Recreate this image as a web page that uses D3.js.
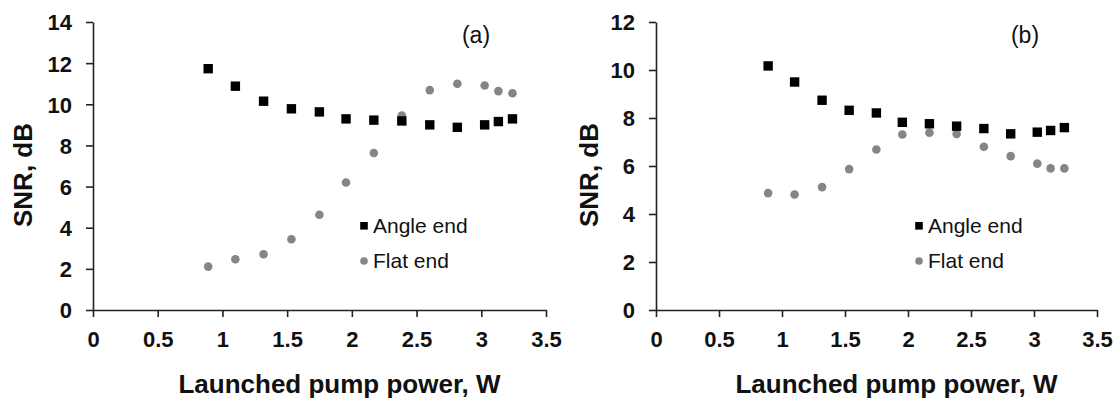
<!DOCTYPE html>
<html>
<head>
<meta charset="utf-8">
<script src="https://cdn.jsdelivr.net/npm/d3@7"></script>
<style>
  body { margin: 0; background: #fff; }
  svg { font-family: "Liberation Sans", Arial, sans-serif; }
</style>
</head>
<body>
<script>
// launched pump power, W (same for both panels)
var potencia = [0.89, 1.10, 1.318, 1.533, 1.749, 1.955, 2.17, 2.386, 2.602, 2.815, 3.026, 3.132, 3.241];

// panel (a)
var anguloA = [11.73, 10.88, 10.15, 9.78, 9.63, 9.29, 9.23, 9.19, 9.0, 8.88, 9.0, 9.16, 9.29];
var planoA  = [2.11, 2.47, 2.71, 3.44, 4.63, 6.20, 7.63, 9.45, 10.69, 11.0, 10.91, 10.64, 10.54];

// panel (b)
var anguloB = [10.17, 9.50, 8.74, 8.32, 8.21, 7.82, 7.76, 7.66, 7.56, 7.34, 7.41, 7.48, 7.60];
var planoB  = [4.87, 4.81, 5.12, 5.87, 6.69, 7.31, 7.39, 7.34, 6.80, 6.41, 6.10, 5.90, 5.90];

var ticksX  = [0, 0.5, 1, 1.5, 2, 2.5, 3, 3.5];
var ticksYA = [0, 2, 4, 6, 8, 10, 12, 14];
var ticksYB = [0, 2, 4, 6, 8, 10, 12];
var series  = ["Angle end", "Flat end"];

var width = 1114, height = 400;

var svg = d3.select("body").append("svg")
    .attr("width", width)
    .attr("height", height);

var paneles = [
  { etiqueta: "(a)", x0: 93, x1: 546, yMax: 14, ticksY: ticksYA, angulo: anguloA, plano: planoA,
    tituloY: 23, etiquetaX: 476, leyendaX: 364 },
  { etiqueta: "(b)", x0: 656, x1: 1097, yMax: 12, ticksY: ticksYB, angulo: anguloB, plano: planoB,
    tituloY: 589, etiquetaX: 1025, leyendaX: 919 }
];

var margenSup = 22, margenInf = 310;

paneles.forEach(function (p) {
  var escalaX = d3.scaleLinear().domain([0, 3.5]).range([p.x0, p.x1]);
  var escalaY = d3.scaleLinear().domain([0, p.yMax]).range([margenInf, margenSup]);

  // Ejes
  var gx = svg.append("g")
      .attr("transform", "translate(0," + margenInf + ")")
      .call(d3.axisBottom(escalaX).tickValues(ticksX).tickFormat(d3.format("")).tickSize(7).tickSizeOuter(0).tickPadding(14));
  var gy = svg.append("g")
      .attr("transform", "translate(" + p.x0 + ",0)")
      .call(d3.axisLeft(escalaY).tickValues(p.ticksY).tickSize(7).tickSizeOuter(0).tickPadding(14));

  [gx, gy].forEach(function (g) {
    g.select(".domain").attr("stroke", "#222").attr("stroke-width", 1.6);
    g.selectAll(".tick line").attr("stroke", "#222").attr("stroke-width", 1.6);
    g.selectAll(".tick text")
      .attr("fill", "#111")
      .style("font-family", "'Liberation Sans', Arial, sans-serif")
      .style("font-size", "22px")
      .style("font-weight", "bold");
  });
  gy.selectAll(".tick text").attr("dy", "0.36em");

  // Títulos de ejes
  svg.append("text")
    .attr("x", (p.x0 + p.x1) / 2 + 20)
    .attr("y", 393)
    .attr("text-anchor", "middle")
    .style("font-size", "26px")
    .style("font-weight", "bold")
    .attr("fill", "#111")
    .text("Launched pump power, W");

  svg.append("text")
    .attr("transform", "translate(" + (p.tituloY + 9) + ",175) rotate(-90)")
    .attr("text-anchor", "middle")
    .style("font-size", "26px")
    .style("font-weight", "bold")
    .attr("fill", "#111")
    .text("SNR, dB");

  // etiqueta del panel
  svg.append("text")
    .attr("x", p.etiquetaX)
    .attr("y", 43)
    .attr("text-anchor", "middle")
    .style("font-size", "23px")
    .attr("fill", "#111")
    .text(p.etiqueta);

  // Pintamos
  svg.append("g").selectAll("circle")
    .data(p.plano)
    .join("circle")
    .attr("cx", function (d, i) { return escalaX(potencia[i]); })
    .attr("cy", function (d) { return escalaY(d); })
    .attr("r", 4.3)
    .attr("fill", "#858585");

  svg.append("g").selectAll("rect")
    .data(p.angulo)
    .join("rect")
    .attr("x", function (d, i) { return escalaX(potencia[i]) - 4.7; })
    .attr("y", function (d) { return escalaY(d) - 4.7; })
    .attr("width", 9.4)
    .attr("height", 9.4)
    .attr("fill", "#000");

  // Leyenda
  var leyenda = svg.append("g").attr("transform", "translate(" + p.leyendaX + ",0)");
  leyenda.append("rect")
    .attr("x", -3.8).attr("y", 222).attr("width", 7.6).attr("height", 7.6)
    .attr("fill", "#000");
  leyenda.append("circle")
    .attr("cx", 0).attr("cy", 261).attr("r", 3.8)
    .attr("fill", "#858585");
  leyenda.selectAll("text.leyenda")
    .data(series)
    .join("text")
    .attr("class", "leyenda")
    .attr("x", 9)
    .attr("y", function (d, i) { return 233 + i * 35; })
    .style("font-size", "21px")
    .attr("fill", "#111")
    .text(function (d) { return d; });
});
</script>
</body>
</html>
